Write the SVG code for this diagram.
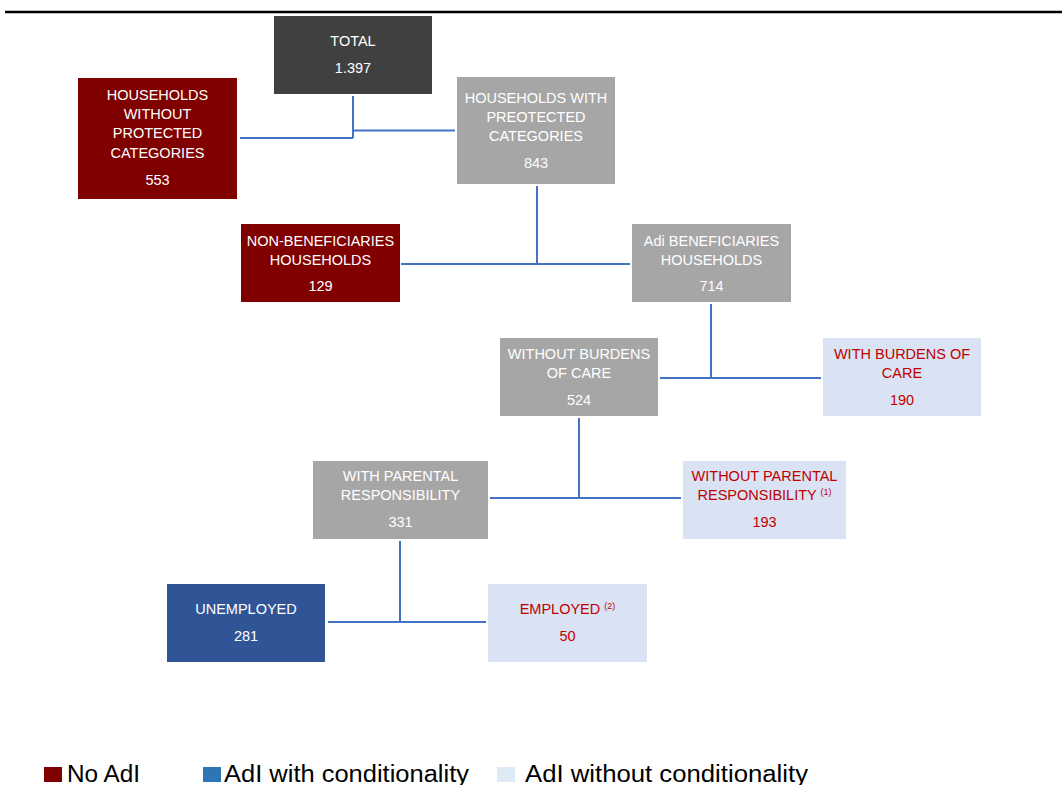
<svg xmlns="http://www.w3.org/2000/svg" width="1062" height="785" viewBox="0 0 1062 785">
  <style>
    .lbl { font-family: "Liberation Sans", Arial, sans-serif; font-size: 14.5px; text-anchor: middle; }
    .w { fill: #ffffff; }
    .r { fill: #c00000; }
    .sup { font-size: 9px; }
    .dark { fill: #404040; }
    .red { fill: #800000; }
    .grey { fill: #a6a6a6; }
    .blue { fill: #2f5597; }
    .pale { fill: #dae3f3; }
    .conn { stroke: #4472c4; stroke-width: 2; fill: none; }
    .leg { font-family: "Liberation Sans", Arial, sans-serif; font-size: 23px; fill: #000000; }
  </style>

  <rect width="1062" height="785" fill="#ffffff"/>
  <line x1="5" y1="12" x2="1062" y2="12" stroke="#000000" stroke-width="2.5"/>

  <g id="connectors">
    <path class="conn" d="M353 96 V138 M240 138 H353 M353 130.5 H455"/>
    <path class="conn" d="M537 186 V264 M401 264 H630"/>
    <path class="conn" d="M711 304 V378 M660 378 H821"/>
    <path class="conn" d="M579 418 V498 M490 498 H681"/>
    <path class="conn" d="M400 541 V622 M328 622 H486"/>
  </g>

  <g id="total">
    <rect class="dark" x="274" y="16" width="158" height="78"/>
    <text class="lbl w" x="353" y="46">TOTAL</text>
    <text class="lbl w" x="353" y="73">1.397</text>
  </g>

  <g id="without-protected">
    <rect class="red" x="78" y="78" width="159" height="121"/>
    <text class="lbl w" x="157.5" y="100">HOUSEHOLDS</text>
    <text class="lbl w" x="157.5" y="119">WITHOUT</text>
    <text class="lbl w" x="157.5" y="138">PROTECTED</text>
    <text class="lbl w" x="157.5" y="158">CATEGORIES</text>
    <text class="lbl w" x="157.5" y="185">553</text>
  </g>

  <g id="with-protected">
    <rect class="grey" x="457" y="77" width="158" height="107"/>
    <text class="lbl w" x="536" y="103">HOUSEHOLDS WITH</text>
    <text class="lbl w" x="536" y="122">PREOTECTED</text>
    <text class="lbl w" x="536" y="141">CATEGORIES</text>
    <text class="lbl w" x="536" y="168">843</text>
  </g>

  <g id="non-beneficiaries">
    <rect class="red" x="241" y="224" width="159" height="78"/>
    <text class="lbl w" x="320.5" y="246">NON-BENEFICIARIES</text>
    <text class="lbl w" x="320.5" y="265">HOUSEHOLDS</text>
    <text class="lbl w" x="320.5" y="291">129</text>
  </g>

  <g id="beneficiaries">
    <rect class="grey" x="632" y="224" width="159" height="78"/>
    <text class="lbl w" x="711.5" y="246">Adi BENEFICIARIES</text>
    <text class="lbl w" x="711.5" y="265">HOUSEHOLDS</text>
    <text class="lbl w" x="711.5" y="291">714</text>
  </g>

  <g id="without-burdens">
    <rect class="grey" x="500" y="338" width="158" height="78"/>
    <text class="lbl w" x="579" y="359">WITHOUT BURDENS</text>
    <text class="lbl w" x="579" y="378">OF CARE</text>
    <text class="lbl w" x="579" y="405">524</text>
  </g>

  <g id="with-burdens">
    <rect class="pale" x="823" y="338" width="158" height="78"/>
    <text class="lbl r" x="902" y="359">WITH BURDENS OF</text>
    <text class="lbl r" x="902" y="378">CARE</text>
    <text class="lbl r" x="902" y="405">190</text>
  </g>

  <g id="with-parental">
    <rect class="grey" x="313" y="461" width="175" height="78"/>
    <text class="lbl w" x="400.5" y="481">WITH PARENTAL</text>
    <text class="lbl w" x="400.5" y="500">RESPONSIBILITY</text>
    <text class="lbl w" x="400.5" y="527">331</text>
  </g>

  <g id="without-parental">
    <rect class="pale" x="683" y="461" width="163" height="78"/>
    <text class="lbl r" x="764.5" y="481">WITHOUT PARENTAL</text>
    <text class="lbl r" x="764.5" y="500">RESPONSIBILITY <tspan class="sup" dy="-5">(1)</tspan></text>
    <text class="lbl r" x="764.5" y="527">193</text>
  </g>

  <g id="unemployed">
    <rect class="blue" x="167" y="584" width="158" height="78"/>
    <text class="lbl w" x="246" y="614">UNEMPLOYED</text>
    <text class="lbl w" x="246" y="641">281</text>
  </g>

  <g id="employed">
    <rect class="pale" x="488" y="584" width="159" height="78"/>
    <text class="lbl r" x="567.5" y="614">EMPLOYED <tspan class="sup" dy="-5">(2)</tspan></text>
    <text class="lbl r" x="567.5" y="641">50</text>
  </g>

  <g id="legend">
    <rect x="44" y="767" width="18" height="15" fill="#800000"/>
    <text class="leg" x="67" y="782" textLength="73" lengthAdjust="spacingAndGlyphs">No AdI</text>
    <rect x="203" y="767" width="18" height="15" fill="#2e75b6"/>
    <text class="leg" x="224" y="782" textLength="245" lengthAdjust="spacingAndGlyphs">AdI with conditionality</text>
    <rect x="497" y="767" width="18" height="15" fill="#deebf7"/>
    <text class="leg" x="525" y="782" textLength="283" lengthAdjust="spacingAndGlyphs">AdI without conditionality</text>
  </g>
</svg>
